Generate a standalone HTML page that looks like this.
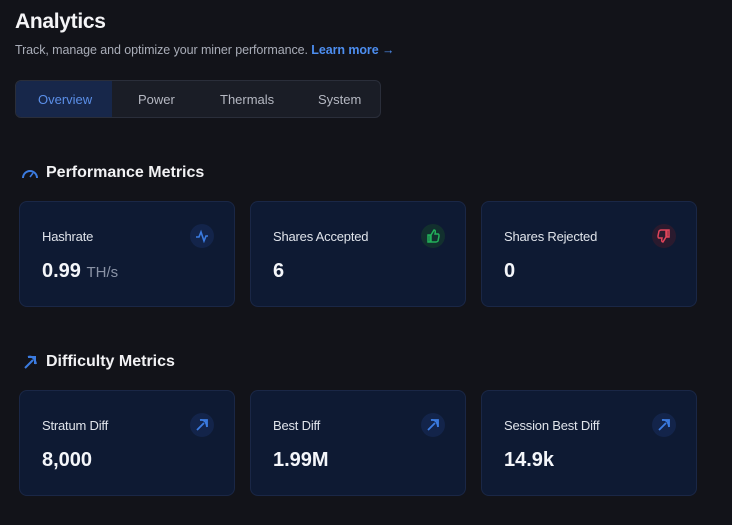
<!DOCTYPE html><html><head><style>
body{margin:0;width:732px;height:525px;background:#121319;font-family:"Liberation Sans",sans-serif;position:relative;overflow:hidden;color:#fff}
.a{position:absolute}
h1{position:absolute;left:15px;top:10px;margin:0;font-size:21px;font-weight:bold;color:#f4f4f6;letter-spacing:-0.3px}
.sub{left:15px;top:43px;font-size:12.5px;color:#a9adb8;letter-spacing:-0.08px}
.sub b{color:#4d8ef0}
.tabs{left:15px;top:80px;width:364px;height:36px;border:1px solid #2a2e3a;border-radius:6px;background:#1a1d26}
.tab{position:absolute;top:11px;font-size:13px;color:#b5b8c2}
.act{left:0;top:0;width:96px;height:36px;background:#17274a;border-radius:5px 0 0 5px}
.h{font-size:16px;font-weight:bold;color:#f2f2f4}
.card{position:absolute;width:214px;height:104px;background:#0e1a33;border:1px solid #1a2746;border-radius:8px}
.lab{position:absolute;left:22px;top:27px;font-size:13px;color:#dfe3ea;letter-spacing:-0.2px}
.val{position:absolute;left:22px;top:58px;font-size:20px;font-weight:bold;color:#f4f6fa}
.val span{font-size:15px;font-weight:normal;color:#8a93a6}
.ic{position:absolute;left:170px;top:22px;width:24px;height:24px;border-radius:50%;background:#13244a;font-size:13px;text-align:center;line-height:24px}
.ic svg{position:absolute;left:5px;top:5px}
</style></head><body>
<h1>Analytics</h1>
<div class="a sub">Track, manage and optimize your miner performance. <b>Learn more →</b></div>
<div class="a tabs"><div class="a act"></div>
<div class="tab" style="left:22px;color:#5b8fe8">Overview</div>
<div class="tab" style="left:122px">Power</div>
<div class="tab" style="left:204px">Thermals</div>
<div class="tab" style="left:302px">System</div></div>
<svg class="a" style="left:21px;top:166px" width="18" height="14"><path d="M2 12A7 7 0 0 1 16 12" fill="none" stroke="#3b7be0" stroke-width="2"/><path d="M9 11L12 7" stroke="#3b7be0" stroke-width="1.6"/></svg>
<div class="a h" style="left:46px;top:164px">Performance Metrics</div>
<svg class="a" style="left:22px;top:354px" width="16" height="16"><path d="M3 14L11 6M6 3Q12 1 14 10M6 3L13 3L13 10" fill="none" stroke="#3b7be0" stroke-width="2"/></svg>
<div class="a h" style="left:46px;top:353px">Difficulty Metrics</div>

<div class="card" style="left:19px;top:201px"><div class="lab">Hashrate</div><div class="val">0.99 <span>TH/s</span></div><div class="ic"><svg width="14" height="14"><path d="M1 8H4L6 3L9 12L11 7H13" fill="none" stroke="#3b7be0" stroke-width="1.6"/></svg></div></div>
<div class="card" style="left:250px;top:201px"><div class="lab">Shares Accepted</div><div class="val">6</div><div class="ic" style="background:#12302e"><svg width="14" height="14"><path d="M2 6H4V13H2ZM5 6L8 1Q10 1 9 5H12Q13 5 13 7L12 12Q11 13 10 13H5Z" fill="none" stroke="#22b05a" stroke-width="1.5"/></svg></div></div>
<div class="card" style="left:481px;top:201px"><div class="lab">Shares Rejected</div><div class="val">0</div><div class="ic" style="background:#2a1a2e"><svg width="14" height="14"><g transform="rotate(180 7 7)"><path d="M2 6H4V13H2ZM5 6L8 1Q10 1 9 5H12Q13 5 13 7L12 12Q11 13 10 13H5Z" fill="none" stroke="#e0445a" stroke-width="1.5"/></g></svg></div></div>

<div class="card" style="left:19px;top:390px"><div class="lab">Stratum Diff</div><div class="val">8,000</div><div class="ic"><svg width="14" height="14"><path d="M2 12L9 5M5 2Q11 1 12 9M5 2L12 2L12 9" fill="none" stroke="#3b7be0" stroke-width="1.8"/></svg></div></div>
<div class="card" style="left:250px;top:390px"><div class="lab">Best Diff</div><div class="val">1.99M</div><div class="ic"><svg width="14" height="14"><path d="M2 12L9 5M5 2Q11 1 12 9M5 2L12 2L12 9" fill="none" stroke="#3b7be0" stroke-width="1.8"/></svg></div></div>
<div class="card" style="left:481px;top:390px"><div class="lab">Session Best Diff</div><div class="val">14.9k</div><div class="ic"><svg width="14" height="14"><path d="M2 12L9 5M5 2Q11 1 12 9M5 2L12 2L12 9" fill="none" stroke="#3b7be0" stroke-width="1.8"/></svg></div></div>
</body></html>
